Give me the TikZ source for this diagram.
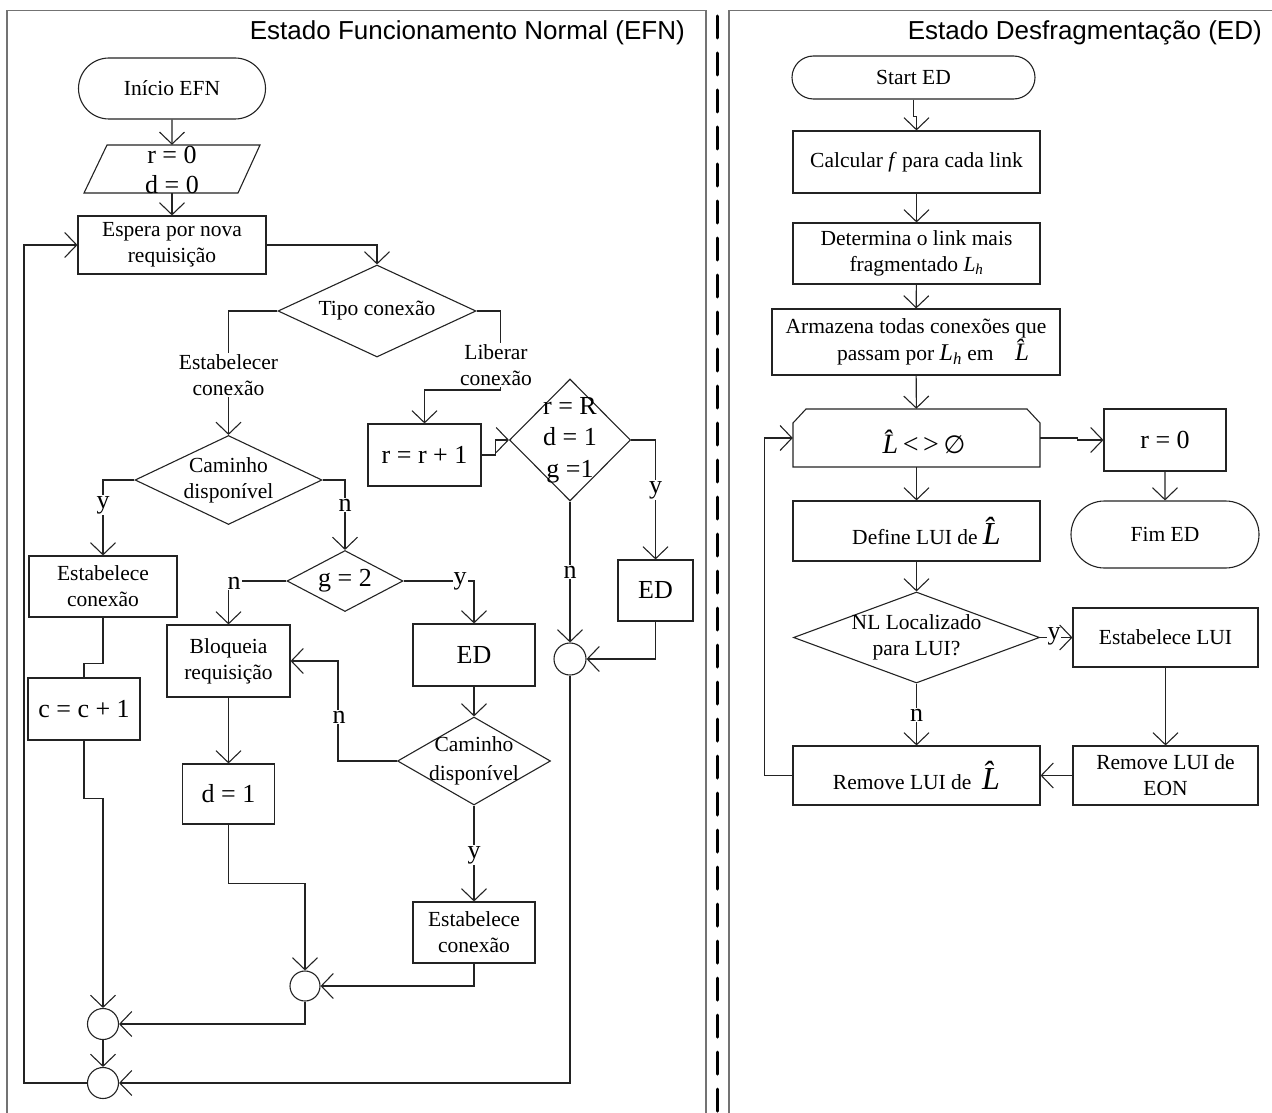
\documentclass[tikz,border=0pt]{standalone}
\usepackage{fontspec}
\setmainfont{Liberation Serif}
\newfontfamily\titlefont{Liberation Sans}
\newfontfamily\symfont{DejaVu Sans}
\usetikzlibrary{arrows.meta,shapes.geometric,shapes.misc}
\newcommand\txtA{\fontsize{21.5}{26}\selectfont}
\newcommand\txtB{\fontsize{26}{31}\selectfont}
% italic L followed by a combining circumflex
\newcommand\Lhat{{\itshape L\char"0302}}
\newcommand\Lsub{{\itshape L}\textsubscript{\itshape h}}
\definecolor{ink}{RGB}{35,35,35}
\definecolor{framegray}{RGB}{115,115,115}

\begin{document}
\begin{tikzpicture}[x=1pt,y=-1pt,
  line/.style={draw=ink, line width=1.1pt},
  arr/.style={line, -{Straight Barb[length=12pt,width=25pt]}},
  proc/.style={rectangle, draw=ink, line width=1.1pt, inner sep=1pt, align=center, font=\txtA},
  term/.style={rounded rectangle, draw=ink, line width=1.1pt, inner sep=1pt, font=\txtA},
  dec/.style={diamond, draw=ink, line width=1.1pt, inner sep=0pt},
  junc/.style={circle, draw=ink, line width=1.1pt, inner sep=0pt},
  txt/.style={inner sep=0pt, align=center, font=\txtA},
  yn/.style={fill=white, inner sep=1pt, font=\txtB},
  ghost/.style={rectangle, inner sep=0pt},
  frame/.style={draw=framegray, line width=1.6pt},
  title/.style={anchor=base east, inner sep=0pt, font=\titlefont\fontsize{26}{30}\selectfont}]
\useasboundingbox (0,0) rectangle (1272,1113);

% panel frames and the divider between the two states
\draw[frame] (7,1113) -- (7,10.5) -- (706,10.5) -- (706,1113);
\draw[frame] (729,1113) -- (729,10.5) -- (1272,10.5);
\draw[line width=3pt, line cap=round, dash pattern=on 22pt off 15pt] (717,16) -- (717,1113);

\node[title] (tEFN) at (685,40) {Estado Funcionamento Normal (EFN)};
\node[title] (tED) at (1262,40) {Estado Desfragmentação (ED)};

% ---------- normal operation state ----------
\node[term, minimum width=189pt, minimum height=61pt] (inicio) at (172,88.5) {Início EFN};
\draw[line] (107,145) -- (260,145) -- (238,193) -- (84,193) -- cycle;
\node[ghost, minimum width=153pt, minimum height=48pt] (init) at (172,169) {};
\node[txt, font=\fontsize{26}{30}\selectfont] (initT) at (172,170) {r = 0\\d = 0};
\node[proc, minimum width=188pt, minimum height=58pt] (espera) at (172,245) {Espera por nova\\requisição};
\node[dec, minimum width=198pt, minimum height=92pt] (tipo) at (377,311) {};
\node[txt] (tipoT) at (tipo) {Tipo conexão};
\node[proc, font=\txtB, minimum width=113pt, minimum height=62pt] (rr) at (424.5,455) {r = r + 1};
\node[dec, minimum width=121pt, minimum height=122pt] (rR) at (570,440) {};
\node[txt, font=\fontsize{26}{31.5}\selectfont] (rRT) at (rR) {r = R\\d = 1\\g =1};
\node[proc, font=\txtB, minimum width=75pt, minimum height=61pt] (edB) at (655.5,590.5) {ED};
\node[junc, minimum size=32pt] (j1) at (570,659) {};
\node[dec, minimum width=187pt, minimum height=89pt] (cam1) at (228.5,480) {};
\node[txt] (cam1T) at (cam1) {Caminho\\disponível};
\node[proc, minimum width=148pt, minimum height=61pt] (est1) at (103,586.5) {Estabelece\\conexão};
\node[dec, minimum width=116pt, minimum height=61pt] (g2) at (345,581) {};
\node[txt, font=\txtB] (g2T) at (g2) {g = 2};
\node[proc, font=\txtB, minimum width=112pt, minimum height=62pt] (cinc) at (84,709) {c = c + 1};
\node[proc, minimum width=123pt, minimum height=72pt] (bloq) at (228.5,661) {Bloqueia\\requisição};
\node[proc, font=\txtB, minimum width=92pt, minimum height=60pt] (dset) at (228.5,794) {d = 1};
\node[proc, font=\txtB, minimum width=122pt, minimum height=62pt] (edA) at (474,655) {ED};
\node[dec, minimum width=153pt, minimum height=88pt] (cam2) at (474,761) {};
\node[txt, font=\fontsize{21.5}{29}\selectfont] (cam2T) at (cam2) {Caminho\\disponível};
\node[proc, minimum width=122pt, minimum height=61pt] (est2) at (474,932.5) {Estabelece\\conexão};
\node[junc, minimum size=30pt] (j2) at (305,986) {};
\node[junc, minimum size=31pt] (j3) at (103,1024) {};
\node[junc, minimum size=31pt] (j4) at (103,1083) {};

\draw[arr] (inicio) -- (init);
\draw[arr] (init) -- (espera);
\draw[arr] (espera.east) -| (tipo.north);
\draw[arr] (tipo.west) -| (cam1.north);
\draw[arr] (tipo.east) -- ++(24,0) -- ++(0,79) -| (rr.north);
\draw[arr] (rr.east) -- ++(14,0) |- (rR.west);
\draw[arr] (rR.east) -| (edB.north);
\draw[arr] (rR.south) -- (j1.north);
\draw[arr] (edB.south) |- (j1.east);
\draw[arr] (j1.south) |- (j4.east);
\draw[arr] (cam1.west) -| (est1.north);
\draw[arr] (cam1.east) -| (g2.north);
\draw[line] (est1.south) -- ++(0,46) -| (cinc.north);
\draw[arr] (cinc.south) -- ++(0,58) -| (j3.north);
\draw[arr] (g2.west) -| (bloq.north);
\draw[arr] (g2.east) -| (edA.north);
\draw[arr] (edA.south) -- (cam2.north);
\draw[arr] (cam2.west) -- ++(-59,0) |- (bloq.east);
\draw[arr] (cam2.south) -- (est2.north);
\draw[arr] (est2.south) |- (j2.east);
\draw[arr] (bloq.south) -- (dset.north);
\draw[arr] (dset.south) -- ++(0,59) -| (j2.north);
\draw[arr] (j2.south) |- (j3.east);
\draw[arr] (j3.south) -- (j4.north);
\draw[arr] (j4.west) -- ++(-63,0) |- (espera.west);

\node[yn, font=\txtA, align=center] (lEst) at (228.5,375) {Estabelecer\\conexão};
\node[yn, font=\txtA, align=center] (lLib) at (496,365) {Liberar\\conexão};
\node[yn] (lY1) at (103,505) {y};
\node[yn] (lN1) at (345,505) {n};
\node[yn] (lN2) at (234,583) {n};
\node[yn] (lY2) at (460,581) {y};
\node[yn] (lN3) at (339,717) {n};
\node[yn] (lY3) at (474,855) {y};
\node[yn] (lY4) at (655.5,490) {y};
\node[yn] (lN4) at (570,572) {n};

% ---------- defragmentation state ----------
\node[term, minimum width=245pt, minimum height=43pt] (start) at (913.5,77.5) {Start ED};
\node[proc, minimum width=247pt, minimum height=62pt] (calc) at (916.5,162) {Calcular \textit{f} para cada link};
\node[proc, minimum width=247pt, minimum height=61pt] (det) at (916.5,253.5) {Determina o link mais\\fragmentado \Lsub};
\node[proc, minimum width=288pt, minimum height=66pt] (arm) at (916,342) {Armazena todas conexões que\\\hspace*{34pt}passam por {\fontsize{24}{26}\selectfont\Lsub} em\quad{\fontsize{25}{26}\selectfont\Lhat}};
\draw[line] (793,467) -- (793,423) -- (806,409) -- (1027,409) -- (1040,423) -- (1040,467) -- cycle;
\node[ghost, minimum width=247pt, minimum height=58pt] (loop) at (916.5,438) {};
\node[txt, font=\fontsize{28}{30}\selectfont] (loopT) at (924,442) {\Lhat\,<\,>\,{\symfont\fontsize{25}{30}\selectfont ∅}};
\node[proc, font=\txtB, minimum width=122pt, minimum height=62pt] (rzero) at (1165,440) {r = 0};
\node[term, minimum width=190pt, minimum height=67pt] (fim) at (1165,534.5) {Fim ED};
\node[proc, minimum width=247pt, minimum height=60pt] (def) at (916.5,531) {\hspace*{20pt}Define LUI de {\fontsize{32}{34}\selectfont\Lhat}};
\node[dec, minimum width=246pt, minimum height=91pt] (nl) at (916.5,637.5) {};
\node[txt] (nlT) at (nl) {NL Localizado\\para LUI?};
\node[proc, minimum width=185pt, minimum height=59pt] (elui) at (1165.5,637.5) {Estabelece LUI};
\node[proc, minimum width=185pt, minimum height=59pt] (reon) at (1165.5,775.5) {Remove LUI de\\EON};
\node[proc, minimum width=247pt, minimum height=59pt] (rml) at (916.5,775.5) {Remove LUI de\enspace{\fontsize{32}{34}\selectfont\Lhat}};

\draw[arr] (start.south) -- ++(0,17) -| (calc.north);
\draw[arr] (calc) -- (det);
\draw[arr] (det) -- (arm);
\draw[arr] (arm) -- (loop);
\draw[arr] (loop.east) -- ++(37,0) |- (rzero.west);
\draw[arr] (rzero) -- (fim);
\draw[arr] (loop) -- (def);
\draw[arr] (def) -- (nl);
\draw[arr] (nl.east) -- (elui.west);
\draw[arr] (nl.south) -- (rml.north);
\draw[arr] (elui) -- (reon);
\draw[arr] (reon) -- (rml);
\draw[arr] (rml.west) -- ++(-28,0) |- (loop.west);

\node[yn, inner sep=0.3pt] (lY5) at (1054,636) {y};
\node[yn] (lN5) at (916.5,715) {n};
\end{tikzpicture}
\end{document}
